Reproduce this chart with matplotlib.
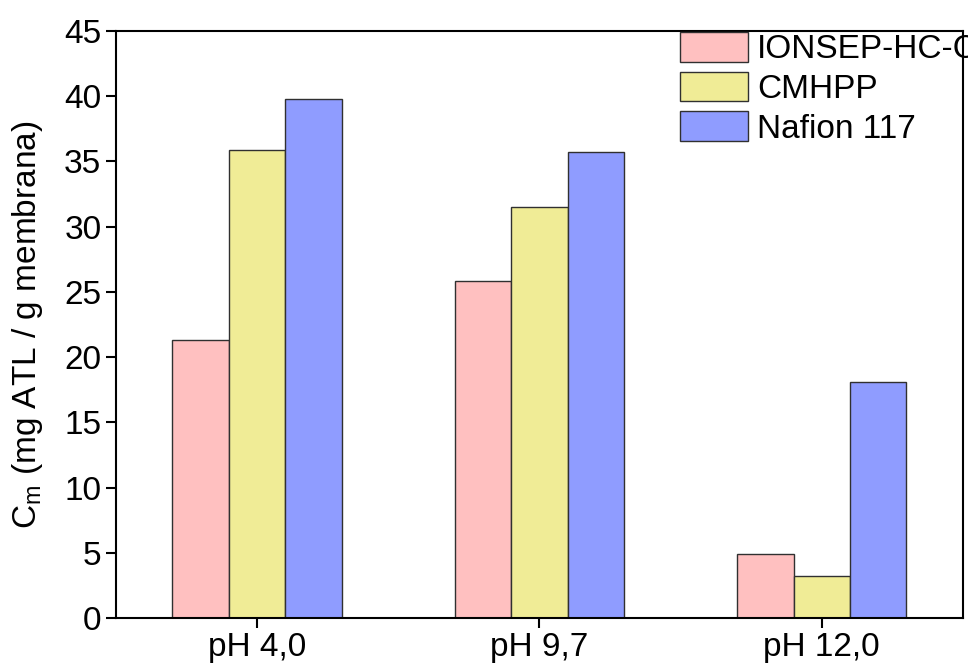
import numpy as np
import matplotlib.pyplot as plt

plt.rcParams['font.family'] = ['Liberation Sans', 'DejaVu Sans']

# C_m values per membrane at each pH
categorias = ['pH 4,0', 'pH 9,7', 'pH 12,0']
membranas = ['IONSEP-HC-C', 'CMHPP', 'Nafion 117']
ionsep = [21.3, 25.8, 4.9]
cmhpp = [35.9, 31.5, 3.2]
nafion = [39.8, 35.7, 18.1]
cores = ['#FFC0C0', '#F0EC96', '#8F9CFF']

fig = plt.figure(figsize=(9.68, 6.64), dpi=100)
ax = fig.add_axes([0.1198, 0.0693, 0.875, 0.884])

x = np.arange(len(categorias))
w = 0.2
for i, (vals, nome) in enumerate(zip([ionsep, cmhpp, nafion], membranas)):
    ax.bar(x + (i - 1) * w, vals, w, color=cores[i], edgecolor='#303030',
           linewidth=1.0, label=nome)

ax.set_xlim(-0.5, 2.5)
ax.set_ylim(0, 45)
ax.set_yticks(np.arange(0, 46, 5))
ax.set_xticks(x)
ax.set_xticklabels(categorias)
ax.tick_params(labelsize=24, width=1.5, length=7, direction='out')
ax.tick_params(axis='x', pad=3)
for s in ax.spines.values():
    s.set_linewidth(1.5)

ax.set_ylabel(r'C$_\mathregular{m}$ (mg ATL / g membrana)', fontsize=24, labelpad=14)

ax.legend(loc='upper left', bbox_to_anchor=(680 / 968, 1 - 32 / 664),
          bbox_transform=fig.transFigure, frameon=False, fontsize=24,
          handlelength=2.04, handleheight=1.0, handletextpad=0.27,
          labelspacing=0.19, borderpad=0, borderaxespad=0)

fig.savefig('out.png', dpi=100)
